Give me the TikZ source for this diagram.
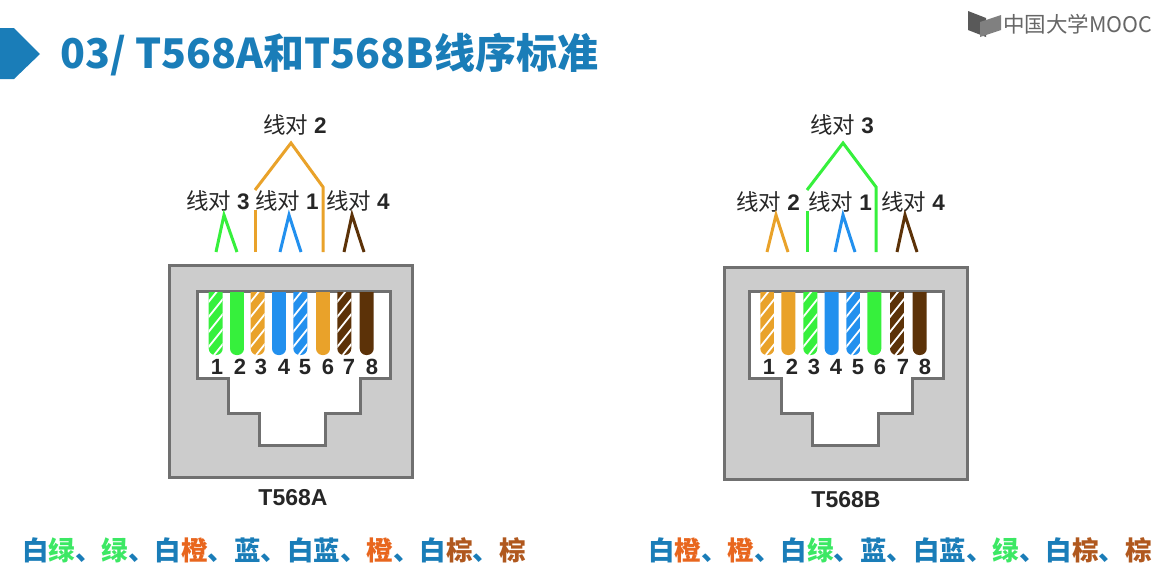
\documentclass[tikz,border=0pt]{standalone}
\usepackage{fontspec}
\setmainfont{Liberation Sans}
\newfontfamily\cjk{Noto Sans CJK SC}
\usetikzlibrary{positioning}

\definecolor{titleblue}{HTML}{1A7DB8}
\definecolor{txtgreen}{HTML}{3CE864}
\definecolor{txtorange}{HTML}{E8661E}
\definecolor{txtbrown}{HTML}{B0581E}
\definecolor{wgreen}{HTML}{36F03C}
\definecolor{worange}{HTML}{E9A22A}
\definecolor{wblue}{HTML}{2290EE}
\definecolor{wbrown}{HTML}{5C3208}
\definecolor{jackgray}{HTML}{CCCCCC}
\definecolor{jackline}{HTML}{707070}

% one wire of the socket: x position, colour, 1 if it has white stripes
\newcommand{\wirebar}[3]{
  \begin{scope}
    \clip (#1-8,292.5) rectangle (#1+8,356);
    \clip[rounded corners=6.5pt] (#1-7,270) -- (#1-7,355) -- (#1+7,355) -- (#1+7,270) -- cycle;
    \fill[#2] (#1-8,291) rectangle (#1+8,356);
    \ifnum#3=1
      \foreach \s in {303,318,333,348,363}
        \draw[white, line width=1.8pt] (#1-8,\s) -- (#1+8,\s-20);
    \fi
  \end{scope}
}
\newcommand{\pairtext}[1]{{\cjk 线对}\hspace{6pt}{\bfseries #1}}

\begin{document}
\begin{tikzpicture}[
  x=1pt, y=-1pt,
  pairline/.style={line width=3pt},
  jack/.style={draw=jackline, fill=jackgray, line width=3pt, minimum width=243pt,
               minimum height=212pt, inner sep=0pt},
  hole/.style={draw=jackline, fill=white, line width=3pt},
  pairlabel/.style={font=\fontsize{22.5}{24}\selectfont, inner sep=0pt, text=black!85},
  pinnum/.style={font=\bfseries\fontsize{22}{24}\selectfont, inner sep=0pt, text=black!85},
  caption/.style={font=\bfseries\fontsize{23}{26}\selectfont, inner sep=0pt, text=black!85},
  colorrow/.style={font=\cjk\bfseries\fontsize{26.5}{30}\selectfont, inner sep=0pt, anchor=west, text=titleblue}
]
  \useasboundingbox (0,0) rectangle (1164,579);

  % heading
  \fill[titleblue] (0,28) -- (14,28) -- (40,54) -- (14,79) -- (0,79) -- cycle;
  \node[font=\cjk\bfseries\fontsize{41}{44}\selectfont, text=titleblue, anchor=west, inner sep=0pt]
    (title) at (60,55) {03/ T568A和T568B线序标准};

  % logo
  \fill[black!65] (968,11) -- (986,18) -- (986,37) -- (968,30) -- cycle;
  \fill[black!50] (980,22) -- (1001,15) -- (1001,30) -- (980,37) -- cycle;
  \node[font=\cjk\fontsize{21.5}{24}\selectfont, text=black!60, anchor=west, inner sep=0pt]
    (logo) at (1003,24) {中国大学MOOC};

  % sockets
  \node[jack] (jackA) at (291,371.5) {};
  \node[jack] (jackB) at (846,373) {};
  \draw[hole] (197,291) -- (390,291) -- (390,378) -- (360,378) -- (360,413) -- (325,413)
    -- (325,445) -- (259,445) -- (259,413) -- (228,413) -- (228,378) -- (197,378) -- cycle;
  \draw[hole] (749,291) -- (943,291) -- (943,378) -- (912,378) -- (912,413) -- (878,413)
    -- (878,445) -- (812,445) -- (812,413) -- (781,413) -- (781,378) -- (749,378) -- cycle;

  \foreach \x/\c/\k in {215.7/wgreen/1, 237/wgreen/0, 257.7/worange/1, 279/wblue/0,
                        300.3/wblue/1, 323/worange/0, 344.3/wbrown/1, 366.7/wbrown/0}
    \wirebar{\x}{\c}{\k};
  \foreach \x/\c/\k in {767.3/worange/1, 788.3/worange/0, 810.3/wgreen/1, 831.7/wblue/0,
                        853.3/wblue/1, 874.3/wgreen/0, 897/wbrown/1, 919.7/wbrown/0}
    \wirebar{\x}{\c}{\k};

  \foreach \x [count=\i] in {217,240,261,284,305,328,349,372}
    \node[pinnum] (pinA\i) at (\x,367) {\i};
  \foreach \x [count=\i] in {769,792,814,836,858,880,903,925}
    \node[pinnum] (pinB\i) at (\x,367) {\i};

  \node[caption, below=10pt of jackA, xshift=2pt] (capA) {T568A};
  \node[caption, below=11pt of jackB] (capB) {T568B};

  % pair labels
  \node[pairlabel] (topA) at (295,125) {\pairtext{2}};
  \node[pairlabel] (la3) at (218,201) {\pairtext{3}};
  \node[pairlabel] (la1) at (287,201) {\pairtext{1}};
  \node[pairlabel] (la4) at (358,201) {\pairtext{4}};
  \node[pairlabel] (topB) at (842,125) {\pairtext{3}};
  \node[pairlabel] (lb2) at (768,202) {\pairtext{2}};
  \node[pairlabel] (lb1) at (840,202) {\pairtext{1}};
  \node[pairlabel] (lb4) at (913,202) {\pairtext{4}};

  % pair ends
  \coordinate (a1) at (216,252); \coordinate (a2) at (237,252); \coordinate (a12) at (224,215);
  \coordinate (a4) at (280,252); \coordinate (a5) at (301,252); \coordinate (a45) at (289,215);
  \coordinate (a7) at (344,252); \coordinate (a8) at (364,252); \coordinate (a78) at (352,215);
  \coordinate (a3) at (255,252); \coordinate (a3m) at (255,210); \coordinate (a3n) at (255,190);
  \coordinate (a6) at (323,252); \coordinate (a6n) at (323,187); \coordinate (a36) at (291,143);
  \coordinate (b1) at (767,252); \coordinate (b2) at (788,252); \coordinate (b12) at (776,215);
  \coordinate (b4) at (835,252); \coordinate (b5) at (855,252); \coordinate (b45) at (843,215);
  \coordinate (b7) at (897,252); \coordinate (b8) at (917,252); \coordinate (b78) at (905,215);
  \coordinate (b3) at (807,252); \coordinate (b3m) at (807,211); \coordinate (b3n) at (807,190);
  \coordinate (b6) at (876,252); \coordinate (b6n) at (876,187); \coordinate (b36) at (843,143);

  % pairs of jack A
  \draw[pairline, wgreen] (a1) -- (a12) -- (a2);
  \draw[pairline, wblue] (a4) -- (a45) -- (a5);
  \draw[pairline, wbrown] (a7) -- (a78) -- (a8);
  \draw[pairline, worange] (a3) -- (a3m);
  \draw[pairline, worange] (a3n) -- (a36) -- (a6n) -- (a6);

  % pairs of jack B
  \draw[pairline, worange] (b1) -- (b12) -- (b2);
  \draw[pairline, wblue] (b4) -- (b45) -- (b5);
  \draw[pairline, wbrown] (b7) -- (b78) -- (b8);
  \draw[pairline, wgreen] (b3) -- (b3m);
  \draw[pairline, wgreen] (b3n) -- (b36) -- (b6n) -- (b6);

  % colour order
  \node[colorrow] (rowA) at (22,550) {白\textcolor{txtgreen}{绿}、\textcolor{txtgreen}{绿}、白\textcolor{txtorange}{橙}、蓝、白蓝、\textcolor{txtorange}{橙}、白\textcolor{txtbrown}{棕}、\textcolor{txtbrown}{棕}};
  \node[colorrow] (rowB) at (648,550) {白\textcolor{txtorange}{橙}、\textcolor{txtorange}{橙}、白\textcolor{txtgreen}{绿}、蓝、白蓝、\textcolor{txtgreen}{绿}、白\textcolor{txtbrown}{棕}、\textcolor{txtbrown}{棕}};
\end{tikzpicture}
\end{document}
